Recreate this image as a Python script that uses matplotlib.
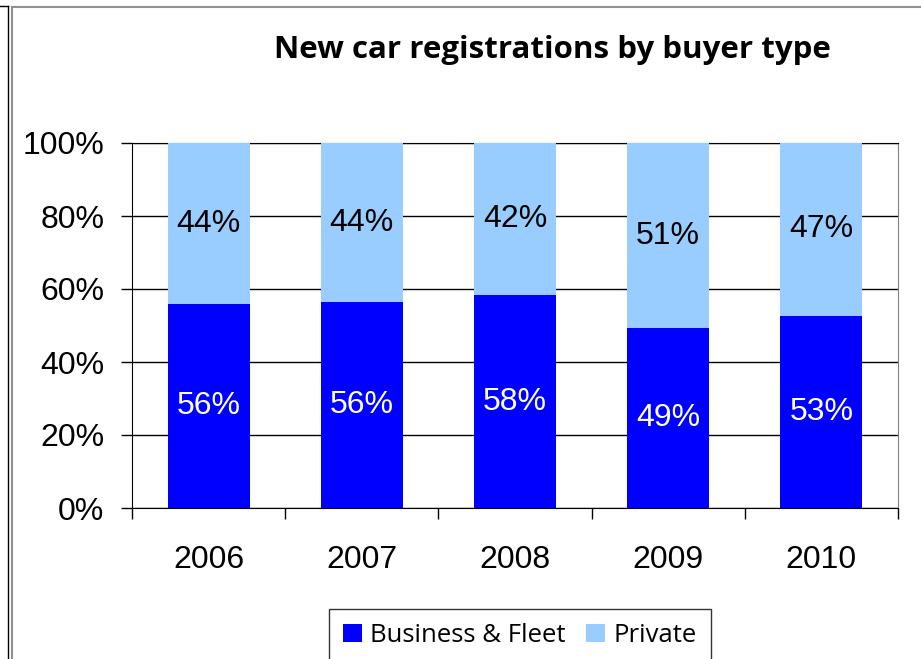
import matplotlib
matplotlib.use("Agg")
import matplotlib.pyplot as plt
from matplotlib.lines import Line2D
from matplotlib.ticker import FixedLocator, PercentFormatter

years = ["2006", "2007", "2008", "2009", "2010"]
business = [55.8, 56.4, 58.3, 49.2, 52.7]
private = [44.2, 43.6, 41.7, 50.8, 47.3]
business_labels = ["56%", "56%", "58%", "49%", "53%"]
private_labels = ["44%", "44%", "42%", "51%", "47%"]

BLUE = "#0000ff"
LIGHT = "#99ccff"


def main() -> None:
    fig = plt.figure(figsize=(9.21, 6.59), dpi=100)
    ax = fig.add_axes([132 / 921, 1 - 508 / 659, 766 / 921, 365 / 659])

    x = list(range(len(years)))
    width = 0.535
    ax.bar(x, business, width, color=BLUE, label="Business & Fleet", zorder=3)
    ax.bar(x, private, width, bottom=business, color=LIGHT, label="Private", zorder=3)

    for i in x:
        ax.text(i, business[i] / 2, business_labels[i], ha="center", va="center",
                color="white", fontsize=23, family="Liberation Sans", zorder=4)
        ax.text(i, business[i] + private[i] / 2, private_labels[i], ha="center",
                va="center", color="black", fontsize=23, family="Liberation Sans",
                zorder=4)

    ax.set_xlim(-0.5, len(years) - 0.5)
    ax.set_ylim(0, 100)
    ax.yaxis.set_major_locator(FixedLocator([0, 20, 40, 60, 80, 100]))
    ax.yaxis.set_major_formatter(PercentFormatter(decimals=0))
    ax.set_xticks(x)
    ax.set_xticklabels(years)
    ax.xaxis.set_minor_locator(FixedLocator([i - 0.5 for i in range(len(years) + 1)]))
    ax.tick_params(axis="x", which="major", length=0, pad=27, labelsize=23)
    ax.tick_params(axis="x", which="minor", length=8, width=1, color="black")
    ax.tick_params(axis="y", length=8, width=1, pad=12, labelsize=23)
    for lab in ax.get_xticklabels() + ax.get_yticklabels():
        lab.set_family("Liberation Sans")

    ax.grid(axis="y", color="black", linewidth=1, zorder=1)
    for side in ["left", "bottom", "top"]:
        ax.spines[side].set_color("black")
    ax.spines["right"].set_color("#808080")

    fig.text(552 / 921, 1 - 58 / 659, "New car registrations by buyer type",
             ha="center", va="baseline", fontsize=22.5, fontweight="bold",
             family="Open Sans")

    leg = fig.legend(loc="upper left", bbox_to_anchor=(329 / 921, 1 - 609 / 659),
                     borderaxespad=0, ncol=2, frameon=True, fancybox=False,
                     handlelength=0.74, handleheight=0.74, handletextpad=0.31,
                     columnspacing=0.8, borderpad=0.55,
                     prop={"family": "Open Sans", "size": 18.5})
    leg.get_frame().set_edgecolor("black")
    leg.get_frame().set_linewidth(1)

    # chart border remnants
    fig.add_artist(Line2D([7.5 / 921, 7.5 / 921], [0, 1 - 6 / 659], color="black", lw=1))
    fig.add_artist(Line2D([0, 7.5 / 921], [1 - 6 / 659, 1 - 6 / 659], color="black", lw=1))
    fig.add_artist(Line2D([11.5 / 921, 11.5 / 921], [0, 1 - 6.5 / 659], color="#909090", lw=1.5))
    fig.add_artist(Line2D([11.5 / 921, 1], [1 - 6.5 / 659, 1 - 6.5 / 659], color="#909090", lw=1.5))

    fig.savefig("out.png", dpi=100)


if __name__ == "__main__":
    main()
